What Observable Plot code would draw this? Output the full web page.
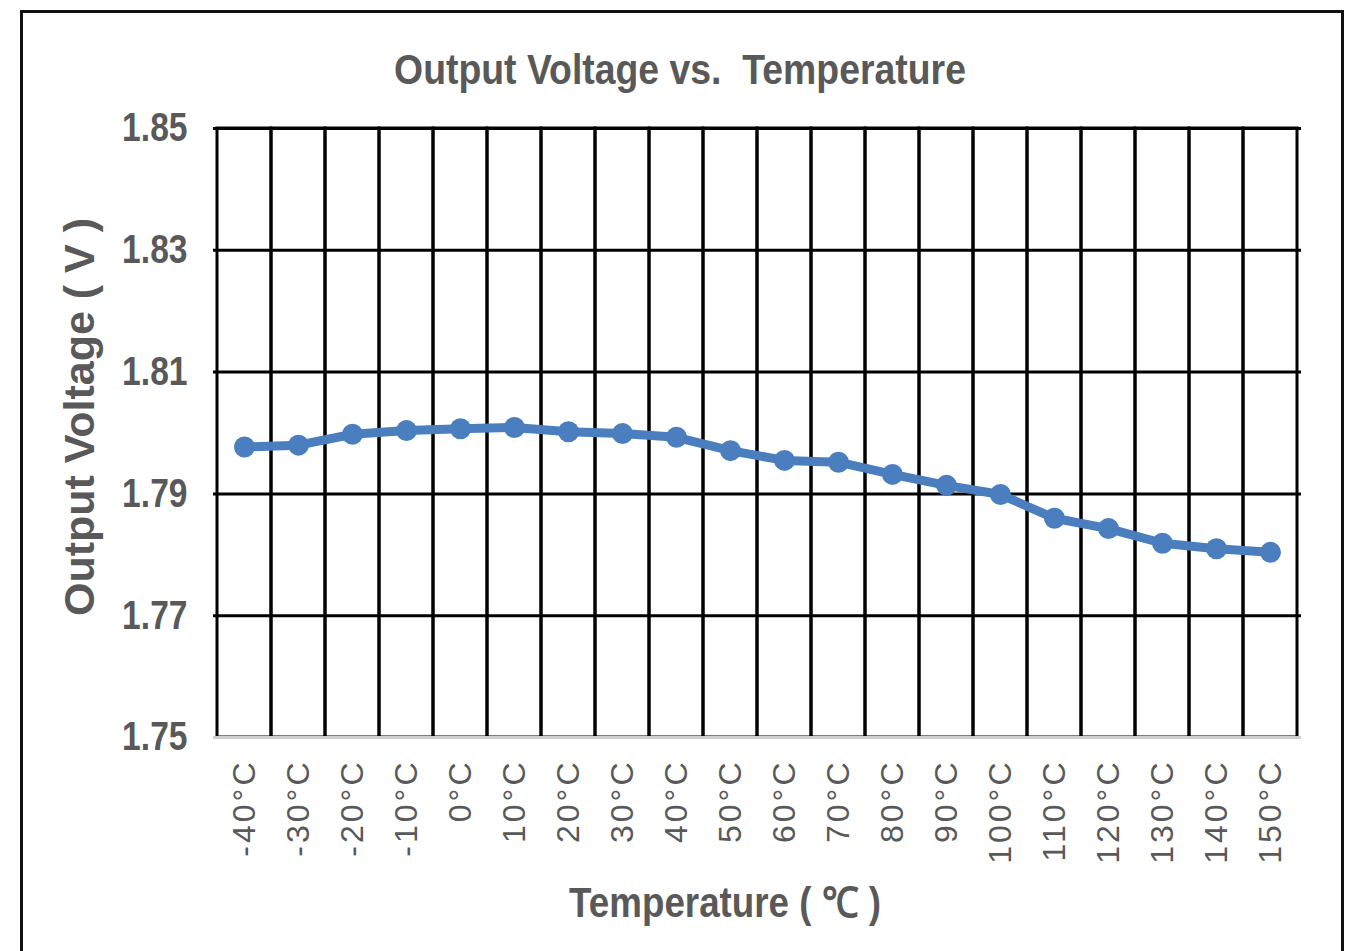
<!DOCTYPE html>
<html>
<head>
<meta charset="utf-8">
<script src="https://cdn.jsdelivr.net/npm/d3@7"></script>
<script src="https://cdn.jsdelivr.net/npm/@observablehq/plot@0.6"></script>
<style>
  html, body { margin: 0; padding: 0; background: #fff; }
  #wrap { position: relative; width: 1345px; height: 951px; overflow: hidden; }
  #frame { position: absolute; left: 20px; top: 10px; width: 1324px; height: 950px; border: 3px solid #111; box-sizing: border-box; pointer-events: none; }
  .lbl { position: absolute; font-family: "Liberation Sans", Arial, sans-serif; font-weight: bold; color: #595959; white-space: pre; }
  #title { left: 680px; top: 46px; font-size: 42px; transform: translateX(-50%) scaleX(0.89); }
  #xlabel { left: 725px; top: 872px; font-size: 42px; transform: translateX(-50%) scaleX(0.875); }
  #ylabel { left: 79px; top: 417px; font-size: 43px; transform: translate(-50%, -50%) rotate(-90deg); }
  svg g[aria-label="x-axis tick label"] text { letter-spacing: 3px; }
</style>
</head>
<body>
<div id="wrap">
  <div id="chart"></div>
  <div id="frame"></div>
  <div class="lbl" id="title">Output Voltage vs.  Temperature</div>
  <div class="lbl" id="ylabel">Output Voltage ( V )</div>
  <div class="lbl" id="xlabel">Temperature ( ℃ )</div>
</div>
<script>
const categories = ["-40°C","-30°C","-20°C","-10°C","0°C","10°C","20°C","30°C","40°C","50°C","60°C","70°C","80°C","90°C","100°C","110°C","120°C","130°C","140°C","150°C"];
const voltages = [1.7977,1.7980,1.7998,1.8004,1.8007,1.8009,1.8002,1.7999,1.7993,1.7971,1.7955,1.7952,1.7932,1.7914,1.7899,1.7860,1.7843,1.7819,1.7810,1.7804];
const yTicks = [1.75,1.77,1.79,1.81,1.83,1.85];

const data = categories.map((c, i) => ({temp: c, v: voltages[i]}));

const chart = Plot.plot({
  width: 1345,
  height: 951,
  marginLeft: 213,
  marginRight: 44,
  marginTop: 128,
  marginBottom: 214,
  style: {background: "transparent"},
  x: {type: "band", domain: categories, padding: 0},
  y: {domain: [1.75, 1.85]},
  marks: [
    Plot.barY(categories, {x: d => d, y1: 1.75, y2: 1.85, fill: "none", stroke: "#000", strokeWidth: 3, inset: 0}),
    Plot.ruleY(yTicks.filter(t => t > 1.75), {stroke: "#000", strokeWidth: 3}),
    Plot.ruleY([1.75], {stroke: "#cfcfcf", strokeWidth: 3}),
    Plot.axisY({ticks: yTicks, tickFormat: d => d.toFixed(2), tickSize: 0, tickPadding: 26, label: null,
      fontFamily: '"Liberation Sans", Arial, sans-serif', fontSize: 40, fontWeight: "bold", color: "#595959"}),
    Plot.axisX({tickSize: 0, tickRotate: -90, tickPadding: 22, label: null,
      fontFamily: '"Liberation Sans", Arial, sans-serif', fontSize: 32, color: "#595959"}),
    Plot.line(data, {x: "temp", y: "v", stroke: "#4a7ebf", strokeWidth: 9, curve: "linear"}),
    Plot.dot(data, {x: "temp", y: "v", r: 10.5, fill: "#4a7ebf", stroke: "none"})
  ]
});
document.getElementById("chart").appendChild(chart);
// condense the y tick labels like the narrow face in the reference
chart.querySelectorAll('g[aria-label="y-axis tick label"] text').forEach(t => {
  const w = t.getComputedTextLength();
  t.setAttribute("textLength", (w * 0.84).toFixed(1));
  t.setAttribute("lengthAdjust", "spacingAndGlyphs");
});
</script>
</body>
</html>
